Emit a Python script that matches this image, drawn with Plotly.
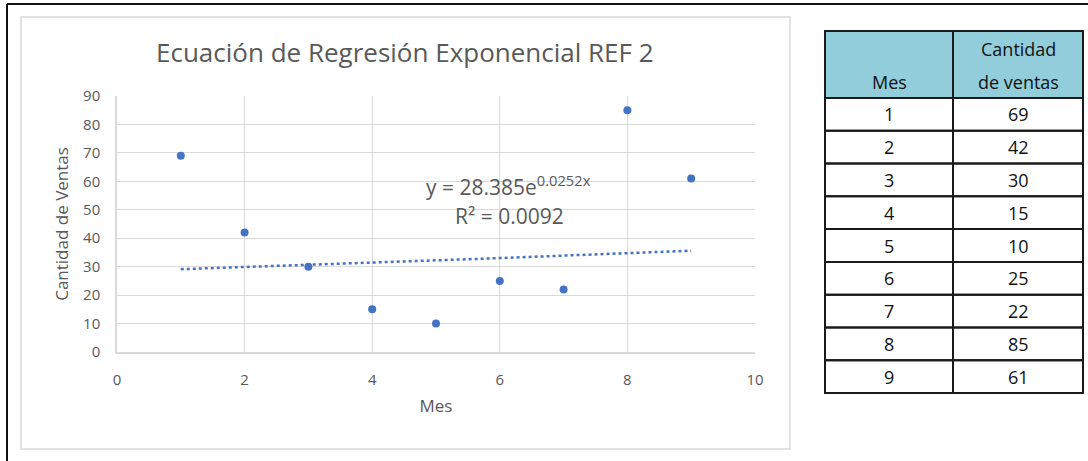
import numpy as np
import plotly.graph_objects as go

# Monthly sales data
meses = [1, 2, 3, 4, 5, 6, 7, 8, 9]
ventas = [69, 42, 30, 15, 10, 25, 22, 85, 61]

# Exponential trendline coefficients  y = a * e^(b x)
coef_a = 28.385
coef_b = 0.0252
r2 = 0.0092

W, H = 1088, 461
L, R, T, B = 117, 755, 96, 352  # plot area in pixels

def px(x):
    return (x - L) / (R - L)

def py(y):
    return (B - y) / (B - T)

BLUE = "#4472C4"
GRAY_TXT = "#595959"
GRID = "#D9D9D9"
FONT = "Open Sans"

fig = go.Figure()

fig.add_trace(go.Scatter(
    x=meses, y=ventas, mode="markers",
    marker=dict(color=BLUE, size=8),
    showlegend=False, hoverinfo="x+y",
))

xt = np.linspace(min(meses), max(meses), 60)
fig.add_trace(go.Scatter(
    x=xt, y=coef_a * np.exp(coef_b * xt), mode="lines",
    line=dict(color=BLUE, width=2.5, dash="3px,3px"),
    showlegend=False, hoverinfo="skip",
))

shapes = []
annotations = []

# Outer black frame (top and left edges)
shapes.append(dict(type="line", xref="paper", yref="paper",
                   x0=px(7), x1=px(W + 5), y0=py(4), y1=py(4),
                   line=dict(color="#111", width=2)))
shapes.append(dict(type="line", xref="paper", yref="paper",
                   x0=px(7), x1=px(7), y0=py(4), y1=py(H + 5),
                   line=dict(color="#111", width=2)))
# Chart area border
shapes.append(dict(type="rect", xref="paper", yref="paper",
                   x0=px(21), x1=px(790), y0=py(17), y1=py(449),
                   line=dict(color=GRID, width=1.5)))

# Title
annotations.append(dict(text="Ecuación de Regresión Exponencial REF 2",
                        xref="paper", yref="paper", x=px(405), y=py(52),
                        showarrow=False, xanchor="center", yanchor="middle",
                        font=dict(family=FONT, size=26, color=GRAY_TXT)))

# Trendline equation
annotations.append(dict(text=f"y = {coef_a}e<sup>{coef_b}x</sup>",
                        xref="paper", yref="paper", x=px(508), y=py(185),
                        showarrow=False, xanchor="center", yanchor="middle",
                        font=dict(family=FONT, size=21, color=GRAY_TXT)))
annotations.append(dict(text=f"R² = {r2}",
                        xref="paper", yref="paper", x=px(509), y=py(216),
                        showarrow=False, xanchor="center", yanchor="middle",
                        font=dict(family=FONT, size=21, color=GRAY_TXT)))

# Data table
TX0, TXM, TX1 = 825, 953, 1083
HT0, HT1 = 31, 98
ROW_H = (393 - 98) / len(meses)
HEADER_FILL = "#92CDDC"
LINE = dict(color="#1a1a1a", width=2)
TFONT = dict(family=FONT, size=18, color="#111")

shapes.append(dict(type="rect", xref="paper", yref="paper",
                   x0=px(TX0), x1=px(TX1), y0=py(HT0), y1=py(HT1),
                   fillcolor=HEADER_FILL, line=LINE, layer="below"))
for i, (m, v) in enumerate(zip(meses, ventas)):
    y0 = HT1 + i * ROW_H
    y1 = y0 + ROW_H
    for (a, b) in ((TX0, TXM), (TXM, TX1)):
        shapes.append(dict(type="rect", xref="paper", yref="paper",
                           x0=px(a), x1=px(b), y0=py(y0), y1=py(y1),
                           line=LINE))
    yc = (y0 + y1) / 2
    for txt, xc in ((m, (TX0 + TXM) / 2), (v, (TXM + TX1) / 2)):
        annotations.append(dict(text=str(txt), xref="paper", yref="paper",
                                x=px(xc), y=py(yc), showarrow=False,
                                xanchor="center", yanchor="middle",
                                font=TFONT))
shapes.append(dict(type="line", xref="paper", yref="paper",
                   x0=px(TXM), x1=px(TXM), y0=py(HT0), y1=py(HT1),
                   line=LINE))

annotations.append(dict(text="Mes", xref="paper", yref="paper",
                        x=px((TX0 + TXM) / 2), y=py(82), showarrow=False,
                        xanchor="center", yanchor="middle", font=TFONT))
annotations.append(dict(text="Cantidad", xref="paper", yref="paper",
                        x=px((TXM + TX1) / 2), y=py(49), showarrow=False,
                        xanchor="center", yanchor="middle", font=TFONT))
annotations.append(dict(text="de ventas", xref="paper", yref="paper",
                        x=px((TXM + TX1) / 2), y=py(82), showarrow=False,
                        xanchor="center", yanchor="middle", font=TFONT))

fig.update_layout(
    width=W, height=H,
    margin=dict(l=L, r=W - R, t=T, b=H - B, pad=0),
    paper_bgcolor="white", plot_bgcolor="white",
    shapes=shapes, annotations=annotations,
    font=dict(family=FONT, color=GRAY_TXT),
    xaxis=dict(range=[0, 10], dtick=2, tick0=0, showgrid=True,
               gridcolor=GRID, gridwidth=1, zeroline=False,
               showline=True, linecolor=GRID, linewidth=1.5,
               ticks="", tickfont=dict(size=15, color=GRAY_TXT),
               ticklabelstandoff=13,
               title=dict(text="Mes", font=dict(size=17, color=GRAY_TXT),
                          standoff=12)),
    yaxis=dict(range=[0, 90], dtick=10, tick0=0, showgrid=True,
               gridcolor=GRID, gridwidth=1, zeroline=False,
               showline=True, linecolor=GRID, linewidth=1.5,
               ticks="", tickfont=dict(size=15, color=GRAY_TXT),
               ticklabelstandoff=12,
               title=dict(text="Cantidad de Ventas",
                          font=dict(size=17, color=GRAY_TXT), standoff=10)),
)

fig.write_html("out.html")
